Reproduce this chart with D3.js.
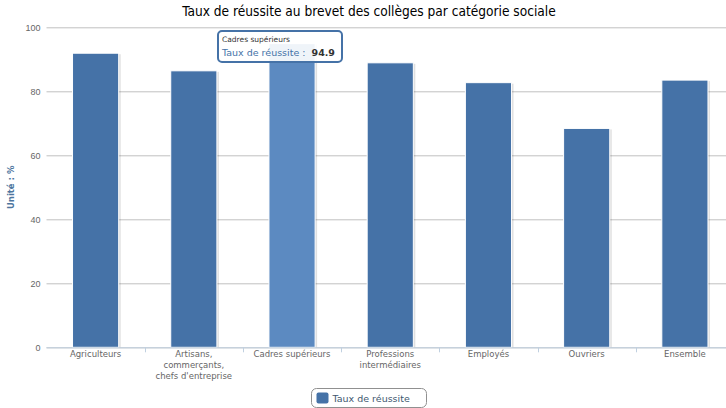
<!DOCTYPE html>
<html>
<head>
<meta charset="utf-8">
<script src="https://cdn.jsdelivr.net/npm/d3@7"></script>
<style>
  body { margin: 0; background: #fff; }
  svg { display: block; font-family: "DejaVu Sans", Verdana, sans-serif; }
</style>
</head>
<body>
<script>
// Chart dimensions (plot runs a little past the right edge, as in the reference)
const width = 726;
const height = 408;
const margin = { top: 27.3, right: -8, bottom: 60.7, left: 46.5 };

// Data
const categories = [
    ["Agriculteurs"],
    ["Artisans,", "commerçants,", "chefs d'entreprise"],
    ["Cadres supérieurs"],
    ["Professions", "intermédiaires"],
    ["Employés"],
    ["Ouvriers"],
    ["Ensemble"]
];
const categoryNames = categories.map(c => c.join(" "));
const values = [91.9, 86.4, 94.9, 88.9, 82.7, 68.4, 83.5];
const yTicks = [0, 20, 40, 60, 80, 100];
const seriesName = "Taux de réussite";
const hoveredIndex = 2;

const svg = d3.select("body")
    .append("svg")
    .attr("width", width)
    .attr("height", height);

// Scales
const xScale = d3.scaleBand()
    .domain(categoryNames)
    .range([margin.left, width - margin.right])
    .paddingInner(0.53)
    .paddingOuter(0.265);

const yScale = d3.scaleLinear()
    .domain([0, 100])
    .range([height - margin.bottom, margin.top]);

// Grid lines and y labels
const leftAxis = d3.axisLeft(yScale)
    .tickValues(yTicks)
    .tickSize(-(width - margin.right - margin.left))
    .tickPadding(8);

const yAxis = svg.append("g")
    .attr("transform", `translate(${margin.left}, 0)`)
    .call(leftAxis);
yAxis.select(".domain").remove();
yAxis.selectAll("line").attr("stroke", "#c0c0c0");
yAxis.selectAll("text")
    .attr("fill", "#666")
    .attr("font-size", 9)
    .attr("x", -6);

// Y axis title
svg.append("text")
    .attr("transform", "rotate(-90)")
    .attr("x", -(margin.top + height - margin.bottom) / 2)
    .attr("y", 14)
    .attr("text-anchor", "middle")
    .attr("fill", "#4d759e")
    .attr("font-weight", "bold")
    .attr("font-size", 8.5)
    .text("Unité : %");

// Bars with a soft shadow
const step = xScale.step();
const bars = svg.append("g");
categoryNames.forEach((name, i) => {
    const x = xScale(name);
    const y = yScale(values[i]);
    const h = yScale(0) - y;
    bars.append("rect")
        .attr("x", x + 1)
        .attr("y", y + 1)
        .attr("width", xScale.bandwidth() + 1)
        .attr("height", h - 1)
        .attr("fill", "#000")
        .attr("opacity", 0.12);
    bars.append("rect")
        .attr("x", x)
        .attr("y", y)
        .attr("width", xScale.bandwidth())
        .attr("height", h)
        .attr("fill", i === hoveredIndex ? "#5c8ac1" : "#4572a7")
        .attr("stroke", "#fff")
        .attr("stroke-width", 1);
});

// X axis line, ticks at category boundaries and labels
const baseY = yScale(0);
svg.append("line")
    .attr("x1", margin.left)
    .attr("x2", width)
    .attr("y1", baseY + 0.5)
    .attr("y2", baseY + 0.5)
    .attr("stroke", "#c0d0e0");

categoryNames.forEach((name, i) => {
    if (i > 0) {
        const tx = Math.round(xScale(name) - step * xScale.paddingInner() / 2) + 0.5;
        svg.append("line")
            .attr("x1", tx).attr("x2", tx)
            .attr("y1", baseY).attr("y2", baseY + 5)
            .attr("stroke", "#c0d0e0");
    }
    const label = svg.append("text")
        .attr("x", xScale(name) + xScale.bandwidth() / 2)
        .attr("y", baseY + 10)
        .attr("text-anchor", "middle")
        .attr("fill", "#666")
        .attr("font-size", 8.5);
    categories[i].forEach((line, j) => {
        label.append("tspan")
            .attr("x", xScale(name) + xScale.bandwidth() / 2)
            .attr("dy", j === 0 ? 0 : 11)
            .text(line);
    });
});

// Title
svg.append("text")
    .attr("x", width / 2 + 6)
    .attr("y", 16)
    .attr("text-anchor", "middle")
    .attr("fill", "#000")
    .attr("font-family", "'DejaVu Sans Condensed', sans-serif")
    .attr("font-size", 13.6)
    .text("Taux de réussite au brevet des collèges par catégorie sociale");

// Legend
const legend = svg.append("g").attr("transform", "translate(311.5, 388.5)");
legend.append("rect")
    .attr("width", 115)
    .attr("height", 19)
    .attr("rx", 5)
    .attr("fill", "#fff")
    .attr("stroke", "#909090");
legend.append("rect")
    .attr("x", 5).attr("y", 4)
    .attr("width", 12).attr("height", 11)
    .attr("rx", 2)
    .attr("fill", "#4572a7");
legend.append("text")
    .attr("x", 21)
    .attr("y", 13.5)
    .attr("fill", "#3e576f")
    .attr("font-size", 9.5)
    .text(seriesName);

// Tooltip on the hovered bar
const tip = svg.append("g").attr("transform", "translate(218, 31)");
tip.append("rect")
    .attr("width", 124)
    .attr("height", 31)
    .attr("rx", 4)
    .attr("fill", "#fff")
    .attr("fill-opacity", 0.9)
    .attr("stroke", "#4572a7")
    .attr("stroke-width", 2);
tip.append("text")
    .attr("x", 4)
    .attr("y", 11)
    .attr("fill", "#333")
    .attr("font-size", 7.5)
    .text(categoryNames[hoveredIndex]);
const tipLine = tip.append("text")
    .attr("x", 4)
    .attr("y", 25)
    .attr("font-size", 9.5);
tipLine.append("tspan")
    .attr("fill", "#4572a7")
    .text(seriesName + " : ");
tipLine.append("tspan")
    .attr("fill", "#333")
    .attr("font-weight", "bold")
    .attr("dx", 3)
    .text(values[hoveredIndex]);
</script>
</body>
</html>
